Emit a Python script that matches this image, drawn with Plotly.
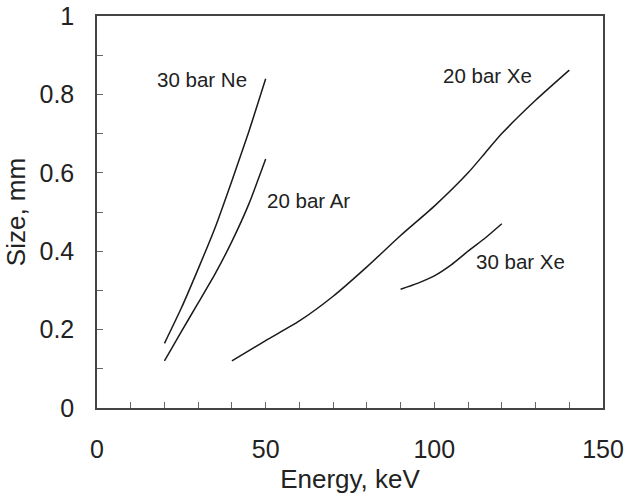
import plotly.graph_objects as go

# Data
ne30_x = [20, 25, 30, 35, 40, 45, 50]
ne30_y = [0.165, 0.255, 0.355, 0.46, 0.58, 0.705, 0.84]

ar20_x = [20, 25, 30, 35, 40, 45, 50]
ar20_y = [0.12, 0.195, 0.268, 0.342, 0.425, 0.52, 0.635]

xe20_x = [40, 50, 60, 70, 80, 90, 100, 110, 115, 120, 130, 140]
xe20_y = [0.12, 0.172, 0.222, 0.285, 0.36, 0.44, 0.515, 0.60, 0.65, 0.70, 0.785, 0.862]

xe30_x = [90, 95, 100, 105, 110, 115, 120]
xe30_y = [0.303, 0.318, 0.337, 0.365, 0.40, 0.433, 0.47]

labels = ["30 bar Ne", "20 bar Ar", "20 bar Xe", "30 bar Xe"]
label_x = [31.0, 62.8, 115.8, 125.6]
label_y = [0.837, 0.53, 0.849, 0.373]

x_ticks = [0, 50, 100, 150]
y_ticks = [0, 0.2, 0.4, 0.6, 0.8, 1]
y_tick_text = ["0", "0.2", "0.4", "0.6", "0.8", "1"]

FONT = "Liberation Sans, Arial, sans-serif"
LINE = "#1a1a1a"

fig = go.Figure()
for xs, ys in [(ne30_x, ne30_y), (ar20_x, ar20_y), (xe20_x, xe20_y), (xe30_x, xe30_y)]:
    fig.add_trace(go.Scatter(x=xs, y=ys, mode="lines", line=dict(color=LINE, width=1.5, shape="spline", smoothing=0.6),
                             showlegend=False, hoverinfo="skip"))

for t, lx, ly in zip(labels, label_x, label_y):
    fig.add_annotation(x=lx, y=ly, text=t, showarrow=False, xref="x", yref="y",
                       font=dict(family=FONT, size=20.5, color="#222"))

axis_common = dict(showline=True, linecolor="#444", linewidth=1.5, mirror=True,
                   showgrid=False, zeroline=False, ticks="inside", tickcolor="#666",
                   tickwidth=1, ticklen=6, automargin=False,
                   tickfont=dict(family=FONT, size=25, color="#222"))

fig.update_xaxes(range=[0, 150], tickvals=x_ticks, ticktext=[str(v) for v in x_ticks],
                 minor=dict(dtick=10, ticks="inside", ticklen=6, tickcolor="#666"),
                 ticklabelstandoff=18,
                 title=dict(text="Energy, keV", font=dict(family=FONT, size=26, color="#222"), standoff=8),
                 **axis_common)
fig.update_yaxes(range=[0, 1], tickvals=y_ticks, ticktext=y_tick_text,
                 minor=dict(dtick=0.1, ticks="inside", ticklen=6, tickcolor="#666"),
                 ticklabelstandoff=16,
                 title=dict(text="Size, mm", font=dict(family=FONT, size=26, color="#222"), standoff=6),
                 **axis_common)

fig.update_layout(width=628, height=500, margin=dict(l=97, r=25, t=16, b=92),
                  paper_bgcolor="white", plot_bgcolor="white")

fig.write_html("out.html")
